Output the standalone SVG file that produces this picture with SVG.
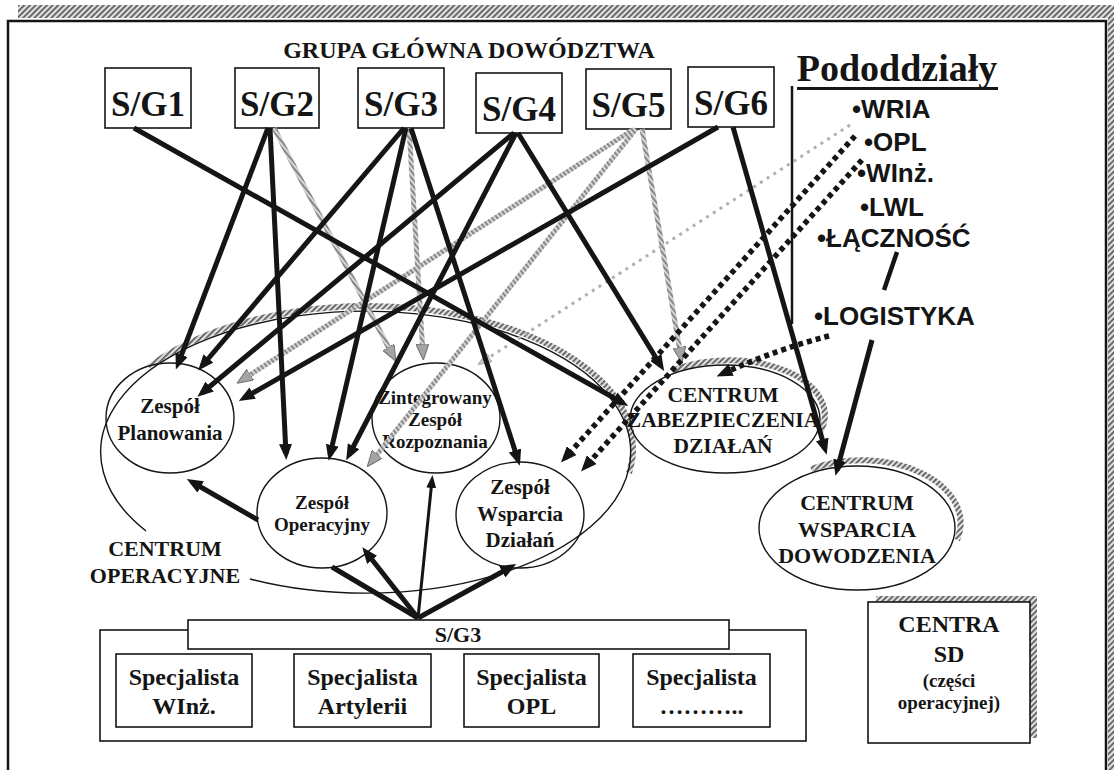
<svg xmlns="http://www.w3.org/2000/svg" width="1114" height="770" viewBox="0 0 1114 770">
  <defs>
    <!-- dark diagonal hatch used for the page edge and node shadows -->
    <pattern id="hatch" patternUnits="userSpaceOnUse" width="4" height="4" patternTransform="rotate(45)">
      <rect width="4" height="4" fill="#e2e2e2"/>
      <rect width="1.8" height="4" fill="#5e5e5e"/>
    </pattern>
    <!-- light hatch for the grey (information) links -->
    <pattern id="ghatch" patternUnits="userSpaceOnUse" width="4" height="4" patternTransform="rotate(-40)">
      <rect width="4" height="4" fill="#d6d6d6"/>
      <rect width="1.7" height="4" fill="#7c7c7c"/>
    </pattern>
    <marker id="ah" viewBox="0 0 16 13" refX="10" refY="6.5" markerWidth="16" markerHeight="13" markerUnits="userSpaceOnUse" orient="auto">
      <path d="M0,0 L16,6.5 L0,13 z" fill="#141414"/>
    </marker>
    <marker id="ahs" viewBox="0 0 13 10" refX="8" refY="5" markerWidth="13" markerHeight="10" markerUnits="userSpaceOnUse" orient="auto">
      <path d="M0,0 L13,5 L0,10 z" fill="#141414"/>
    </marker>
    <marker id="gah" viewBox="0 0 16 13" refX="10" refY="6.5" markerWidth="16" markerHeight="13" markerUnits="userSpaceOnUse" orient="auto">
      <path d="M0,0 L16,6.5 L0,13 z" fill="#a4a4a4" stroke="#707070" stroke-width="1"/>
    </marker>
    <marker id="lah" viewBox="0 0 14 11" refX="9" refY="5.5" markerWidth="14" markerHeight="11" markerUnits="userSpaceOnUse" orient="auto">
      <path d="M0,0 L14,5.5 L0,11 z" fill="#c8c8c8" stroke="#a0a0a0" stroke-width="0.8"/>
    </marker>
  </defs>
  <style>
    .box{fill:#fff;stroke:#151515;stroke-width:1.6}
    .ell{fill:none;stroke:#151515;stroke-width:1.4}
    .shadow{fill:none;stroke:url(#hatch);stroke-width:6}
    .serif{font-family:"Liberation Serif","Times New Roman",serif;font-weight:bold;fill:#151515;text-anchor:middle}
    .sans{font-family:"Liberation Sans",Arial,sans-serif;font-weight:bold;fill:#151515;font-size:26px}
    .blk{stroke:#151515;stroke-width:5;fill:none;marker-end:url(#ah)}
    .thin{stroke:#151515;stroke-width:3;fill:none;marker-end:url(#ahs)}
    .gry{stroke:url(#ghatch);stroke-width:5;fill:none;marker-end:url(#gah)}
    .dot{stroke:#151515;stroke-width:5.5;stroke-dasharray:5 4;fill:none;marker-end:url(#ah)}
    .ldot{stroke:#b0b0b0;stroke-width:3;stroke-dasharray:3 5;fill:none;marker-end:url(#lah)}
  </style>

  <rect width="1114" height="770" fill="#fff"/>

  <!-- page frame with hatched edge -->
  <g id="frame">
    <rect x="18" y="5" width="1096" height="13" fill="url(#hatch)"/>
    <rect x="1108" y="5" width="6" height="765" fill="url(#hatch)"/>
    <path d="M8,770 V21 H1106 V770" fill="none" stroke="#151515" stroke-width="2.5"/>
  </g>

  <text class="serif" x="469" y="58" font-size="24">GRUPA GŁÓWNA DOWÓDZTWA</text>

  <!-- staff cells -->
  <g id="sg1"><rect class="box" x="105" y="68" width="86" height="60"/><text class="serif" x="148" y="116" font-size="35">S/G1</text></g>
  <g id="sg2"><rect class="box" x="235" y="68" width="84" height="60"/><text class="serif" x="277" y="116" font-size="35">S/G2</text></g>
  <g id="sg3"><rect class="box" x="358" y="68" width="86" height="60"/><text class="serif" x="401" y="116" font-size="35">S/G3</text></g>
  <g id="sg4"><rect class="box" x="476" y="73" width="86" height="60"/><text class="serif" x="519" y="121" font-size="35">S/G4</text></g>
  <g id="sg5"><rect class="box" x="586" y="69" width="85" height="60"/><text class="serif" x="628.5" y="117" font-size="35">S/G5</text></g>
  <g id="sg6"><rect class="box" x="688" y="67" width="86" height="60"/><text class="serif" x="731" y="115" font-size="35">S/G6</text></g>

  <!-- subordinate units list -->
  <g id="pododdzialy">
    <text class="serif" x="897" y="81" font-size="38">Pododdziały</text>
    <line x1="797" y1="88.5" x2="998" y2="88.5" stroke="#151515" stroke-width="3"/>
    <line x1="792" y1="86" x2="792" y2="324" stroke="#151515" stroke-width="2.5"/>
    <text class="sans" x="852" y="118">•WRIA</text>
    <text class="sans" x="864" y="151">•OPL</text>
    <text class="sans" x="857" y="182">•WInż.</text>
    <text class="sans" x="860" y="216">•LWL</text>
    <text class="sans" x="817" y="247">•ŁĄCZNOŚĆ</text>
    <text class="sans" x="814" y="325">•LOGISTYKA</text>
  </g>

  <!-- operations centre outline -->
  <g id="centrum-operacyjne">
    <path class="shadow" d="M149,367 A266,142 0 0 1 629,473"/>
    <path class="ell" d="M250,579 A265,141 0 1 0 146,531"/>
    <text class="serif" x="165" y="556" font-size="22">CENTRUM</text>
    <text class="serif" x="165" y="583" font-size="22">OPERACYJNE</text>
  </g>

  <g id="zespol-planowania">
    <ellipse class="ell" cx="170" cy="418" rx="64" ry="55"/>
    <text class="serif" x="170" y="413" font-size="21">Zespół</text>
    <text class="serif" x="170" y="440" font-size="21">Planowania</text>
  </g>
  <g id="zespol-rozpoznania">
    <ellipse class="ell" cx="436" cy="418" rx="64" ry="55"/>
    <text class="serif" x="435" y="404" font-size="19">Zintegrowany</text>
    <text class="serif" x="435" y="426" font-size="19">Zespół</text>
    <text class="serif" x="435" y="448" font-size="19">Rozpoznania</text>
  </g>
  <g id="zespol-operacyjny">
    <ellipse class="ell" cx="322" cy="513" rx="65" ry="55"/>
    <text class="serif" x="322" y="509" font-size="19">Zespół</text>
    <text class="serif" x="322" y="531" font-size="19">Operacyjny</text>
  </g>
  <g id="zespol-wsparcia">
    <ellipse class="ell" cx="520" cy="515" rx="64" ry="53"/>
    <text class="serif" x="520" y="494" font-size="21">Zespół</text>
    <text class="serif" x="520" y="521" font-size="21">Wsparcia</text>
    <text class="serif" x="520" y="547" font-size="21">Działań</text>
  </g>
  <g id="centrum-zabezpieczenia">
    <path class="shadow" d="M674,370 A96,55 0 0 1 819,434"/>
    <ellipse class="ell" cx="725" cy="419" rx="95" ry="54"/>
    <text class="serif" x="723" y="402" font-size="21.5">CENTRUM</text>
    <text class="serif" x="723" y="427" font-size="21.5">ZABEZPIECZENIA</text>
    <text class="serif" x="723" y="453" font-size="21.5">DZIAŁAŃ</text>
  </g>
  <g id="centrum-wsparcia-dowodzenia">
    <path class="shadow" d="M811,469 A99,63 0 0 1 957,540"/>
    <ellipse class="ell" cx="857" cy="528" rx="98" ry="62"/>
    <text class="serif" x="857" y="510" font-size="22">CENTRUM</text>
    <text class="serif" x="857" y="537" font-size="22">WSPARCIA</text>
    <text class="serif" x="857" y="563" font-size="22">DOWODZENIA</text>
  </g>

  <!-- S/G3 specialists -->
  <g id="sg3-specjalisci">
    <rect class="box" x="100" y="630" width="706" height="111"/>
    <rect class="box" x="188" y="620" width="541" height="29"/>
    <text class="serif" x="458" y="642" font-size="22">S/G3</text>
    <rect class="box" x="116" y="654" width="136" height="73"/>
    <text class="serif" x="184" y="685" font-size="24">Specjalista</text>
    <text class="serif" x="184" y="714" font-size="24">WInż.</text>
    <rect class="box" x="294" y="654" width="137" height="73"/>
    <text class="serif" x="362.5" y="685" font-size="24">Specjalista</text>
    <text class="serif" x="362.5" y="714" font-size="24">Artylerii</text>
    <rect class="box" x="464" y="654" width="135" height="73"/>
    <text class="serif" x="531.5" y="685" font-size="24">Specjalista</text>
    <text class="serif" x="531.5" y="714" font-size="24">OPL</text>
    <rect class="box" x="633" y="654" width="137" height="73"/>
    <text class="serif" x="701.5" y="685" font-size="24">Specjalista</text>
    <text class="serif" x="701.5" y="714" font-size="24">………..</text>
  </g>

  <g id="centra-sd">
    <rect x="876" y="596" width="161" height="142" fill="url(#hatch)"/>
    <rect class="box" x="868" y="602" width="162" height="141"/>
    <text class="serif" x="949" y="632" font-size="24">CENTRA</text>
    <text class="serif" x="949" y="662" font-size="24">SD</text>
    <text class="serif" x="949" y="687" font-size="19">(części</text>
    <text class="serif" x="949" y="709" font-size="19">operacyjnej)</text>
  </g>

  <!-- links -->
  <g id="connectors">
    <!-- grey information links -->
    <line class="gry" x1="274" y1="128" x2="393" y2="356"/>
    <line class="gry" x1="409" y1="128" x2="423" y2="354"/>
    <line class="gry" x1="634" y1="129" x2="242" y2="380"/>
    <line class="gry" x1="636" y1="129" x2="371" y2="462"/>
    <line class="gry" x1="642" y1="129" x2="681" y2="357"/>
    <line class="ldot" x1="850" y1="125" x2="482" y2="362"/>

    <!-- command links -->
    <line class="blk" x1="134" y1="128" x2="623" y2="403" stroke-width="6"/>
    <line class="blk" x1="268" y1="128" x2="178" y2="364"/>
    <line class="blk" x1="270" y1="128" x2="286" y2="454"/>
    <line class="blk" x1="404" y1="128" x2="202" y2="366"/>
    <line class="blk" x1="406" y1="128" x2="330" y2="455"/>
    <line class="blk" x1="411" y1="128" x2="518" y2="460"/>
    <line class="blk" x1="514" y1="133" x2="202" y2="393"/>
    <line class="blk" x1="516" y1="133" x2="349" y2="455"/>
    <line class="blk" x1="518" y1="133" x2="661" y2="366"/>
    <line class="blk" x1="718" y1="127" x2="244" y2="398"/>
    <line class="blk" x1="733" y1="127" x2="825" y2="449" stroke-width="4.5"/>

    <!-- subordinate unit links -->
    <line class="dot" x1="855" y1="136" x2="565" y2="458"/>
    <line class="dot" x1="862" y1="160" x2="585" y2="467"/>
    <path class="dot" d="M829,336 Q780,348 722,374"/>
    <line x1="897" y1="252" x2="884" y2="290" stroke="#151515" stroke-width="4.5"/>
    <line class="blk" x1="872" y1="340" x2="837" y2="470" stroke-width="4"/>

    <!-- S/G3 to the operations teams -->
    <line x1="418" y1="618" x2="332" y2="567" stroke="#151515" stroke-width="5"/>
    <line class="blk" x1="418" y1="618" x2="366" y2="552" stroke-width="4.5"/>
    <line class="thin" x1="418" y1="618" x2="432" y2="480"/>
    <line class="blk" x1="418" y1="618" x2="511" y2="567" stroke-width="4.5"/>
    <line class="blk" x1="258" y1="520" x2="192" y2="482" stroke-width="4.5"/>
  </g>
</svg>
